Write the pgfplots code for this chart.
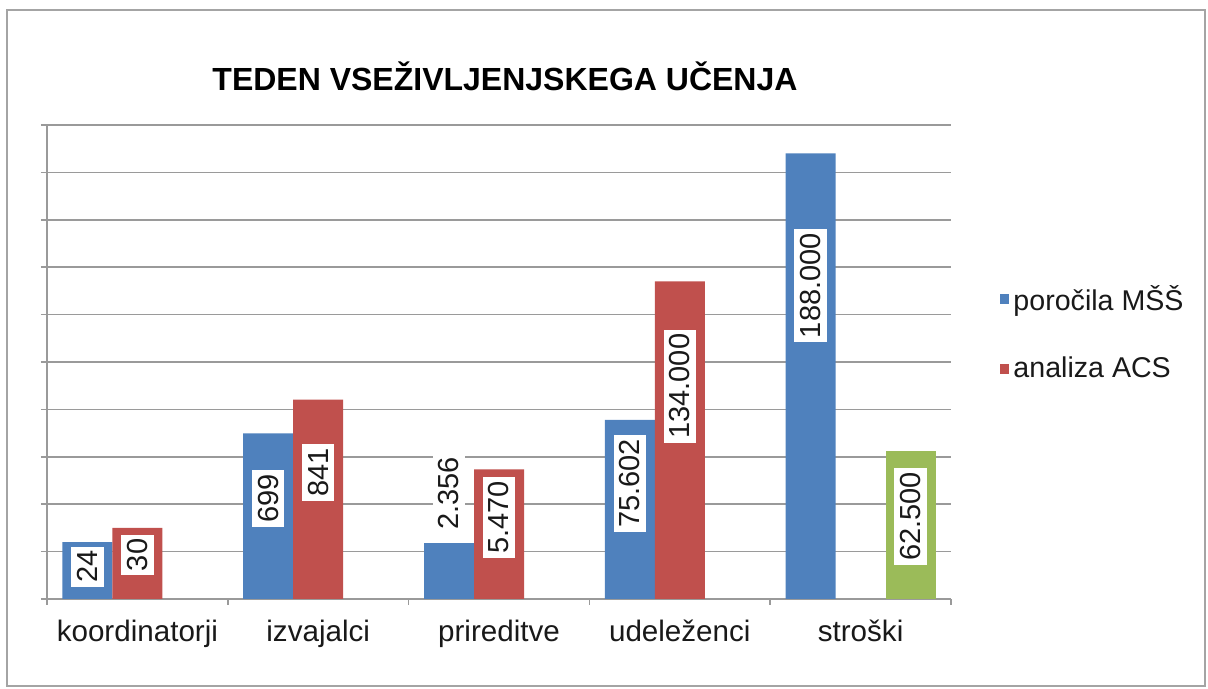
\documentclass[border=0pt]{standalone}
\usepackage{fontspec}
\setmainfont{Liberation Sans}
\usepackage{pgfplots}
\pgfplotsset{compat=1.18}
\definecolor{cblue}{HTML}{4F81BD}
\definecolor{cred}{HTML}{C0504D}
\definecolor{cgreen}{HTML}{9BBB59}
\definecolor{cgrid}{HTML}{9A9A9A}
\pgfplotsset{sqlegend/.style={legend image code/.code={\fill[##1] (0pt,-2.4pt) rectangle (4.8pt,2.6pt);}}}
\begin{document}
\begin{tikzpicture}
\path[use as bounding box] (0,0) rectangle (604pt,344.5pt);
\draw[cgrid!90, line width=1pt] (3.5pt,1.5pt) rectangle (602.5pt,339.5pt);
\node[font=\bfseries\fontsize{16}{19}\selectfont] at (252.5pt,306.5pt) {TEDEN VSEŽIVLJENJSKEGA UČENJA};
\begin{axis}[at={(23.5pt,45pt)}, anchor=south west, scale only axis,
  width=452pt, height=237pt,
  xmin=-0.5, xmax=4.5, ymin=0, ymax=10,
  axis x line*=bottom, axis y line*=left, axis line style={-, cgrid, line width=0.75pt},
  ytick={0,1,...,10}, yticklabels={},
  xtick={0,1,2,3,4},
  xticklabels={koordinatorji,izvajalci,prireditve,udeleženci,stroški},
  xticklabel style={font=\fontsize{14.8}{17}\selectfont, text=black!90, yshift=-4pt},
  minor xtick={-0.5,0.5,1.5,2.5,3.5,4.5},
  major x tick style={draw=none},
  minor x tick style={cgrid, line width=0.75pt},
  ytick style={cgrid, line width=0.75pt},
  tick align=outside, major tick length=3pt, minor tick length=3pt,
  ymajorgrids, major grid style={cgrid, line width=0.75pt},
  legend style={at={(1.047,0.561)}, anchor=west, draw=none, fill=none,
    font=\fontsize{14.3}{17}\selectfont, row sep=18pt, text=black!90},
  legend cell align=left,
  clip=false,
]
\addplot[ybar, bar width=25pt, bar shift=-25pt, fill=cblue, draw=none, sqlegend]
  coordinates {(0,1.2) (1,3.495) (2,1.178) (3,3.78) (4,9.4)};
\addlegendentry{poročila MŠŠ}
\addplot[ybar, bar width=25pt, bar shift=0pt, fill=cred, draw=none, sqlegend]
  coordinates {(0,1.5) (1,4.205) (2,2.735) (3,6.7)};
\addlegendentry{analiza ACS}
\addplot[ybar, bar width=25pt, bar shift=25pt, fill=cgreen, draw=none, forget plot]
  coordinates {(4,3.125)};
% data labels
\addplot[draw=none, forget plot, nodes near coords, point meta=explicit symbolic,
  every node near coord/.style={anchor=center, xshift=-25pt, rotate=90, fill=white,
    inner xsep=2pt, inner ysep=3pt, text=black!90, font=\fontsize{14.5}{17}\selectfont}]
  coordinates {(0,0.68) [24] (1,2.12) [699] (2,2.23) [2.356] (3,2.44) [75.602] (4,6.61) [188.000]};
\addplot[draw=none, forget plot, nodes near coords, point meta=explicit symbolic,
  every node near coord/.style={anchor=center, rotate=90, fill=white,
    inner xsep=2pt, inner ysep=3pt, text=black!90, font=\fontsize{14.5}{17}\selectfont}]
  coordinates {(0,0.93) [30] (1,2.67) [841] (2,1.72) [5.470] (3,4.49) [134.000]};
\addplot[draw=none, forget plot, nodes near coords, point meta=explicit symbolic,
  every node near coord/.style={anchor=center, xshift=25pt, rotate=90, fill=white,
    inner xsep=2pt, inner ysep=3pt, text=black!90, font=\fontsize{14.5}{17}\selectfont}]
  coordinates {(4,1.74) [62.500]};
\end{axis}
\end{tikzpicture}
\end{document}
